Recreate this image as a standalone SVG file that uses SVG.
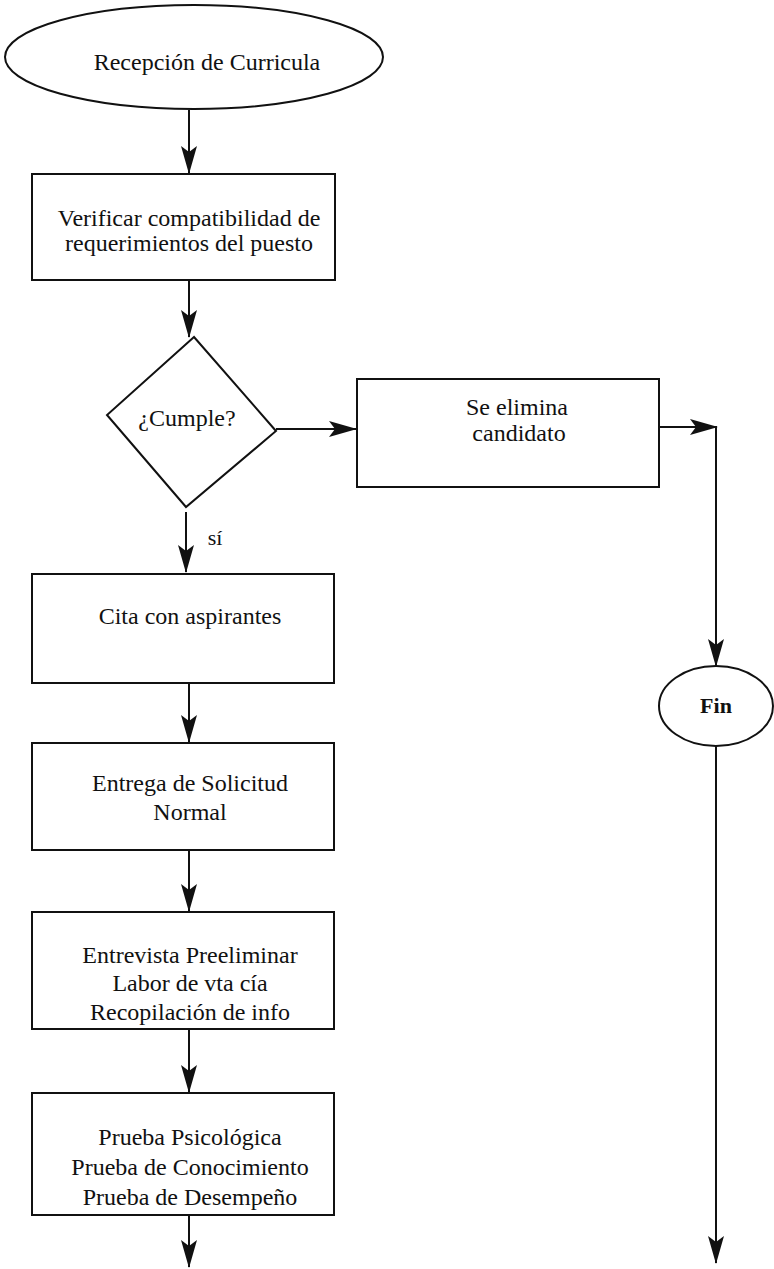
<svg xmlns="http://www.w3.org/2000/svg" width="774" height="1269" viewBox="0 0 774 1269">
<style>
.shape{fill:#fff;stroke:#111;stroke-width:2}
.t{font-family:"Liberation Serif","Times New Roman",serif;font-size:24px;fill:#111;text-anchor:middle}
.b{font-weight:bold;font-size:22px}
.c{stroke:#111;stroke-width:2;fill:none}
</style>
<defs>
<marker id="ah" markerUnits="userSpaceOnUse" markerWidth="28" markerHeight="16" refX="27" refY="8" orient="auto">
<path d="M0,0 L28,8 L0,16 L6,8 Z" fill="#111"/>
</marker>
</defs>
<rect width="774" height="1269" fill="#fff"/>
<g id="connectors">
<line class="c" x1="189" y1="110" x2="189" y2="173" marker-end="url(#ah)"/>
<line class="c" x1="189" y1="280" x2="189" y2="337" marker-end="url(#ah)"/>
<line class="c" x1="276" y1="429" x2="356" y2="429" marker-end="url(#ah)"/>
<line class="c" x1="659" y1="427" x2="717" y2="427" marker-end="url(#ah)"/>
<line class="c" x1="716" y1="427" x2="716" y2="666" marker-end="url(#ah)"/>
<line class="c" x1="186" y1="512" x2="186" y2="572" marker-end="url(#ah)"/>
<line class="c" x1="189" y1="683" x2="189" y2="742" marker-end="url(#ah)"/>
<line class="c" x1="189" y1="850" x2="189" y2="911" marker-end="url(#ah)"/>
<line class="c" x1="189" y1="1029" x2="189" y2="1092" marker-end="url(#ah)"/>
<line class="c" x1="189" y1="1215" x2="189" y2="1267" marker-end="url(#ah)"/>
<line class="c" x1="716" y1="746" x2="716" y2="1263" marker-end="url(#ah)"/>
</g>
<g id="start">
<ellipse class="shape" cx="194" cy="57" rx="189" ry="52"/>
<text class="t" x="207" y="70">Recepción de Curricula</text>
</g>
<g id="verificar">
<rect class="shape" x="32" y="174" width="303" height="106"/>
<text class="t" x="189" y="226">Verificar compatibilidad de</text>
<text class="t" x="189" y="251">requerimientos del puesto</text>
</g>
<g id="cumple">
<polygon class="shape" points="194,337 107,415 186,507 276,431"/>
<text class="t" x="187" y="426">¿Cumple?</text>
<text class="t" x="215" y="545" style="font-size:22px">sí</text>
</g>
<g id="elimina">
<rect class="shape" x="357" y="379" width="302" height="108"/>
<text class="t" x="517" y="415">Se elimina</text>
<text class="t" x="519" y="441">candidato</text>
</g>
<g id="fin">
<ellipse class="shape" cx="716" cy="706" rx="57" ry="40"/>
<text class="t b" x="716" y="713">Fin</text>
</g>
<g id="cita">
<rect class="shape" x="32" y="574" width="302" height="109"/>
<text class="t" x="190" y="624">Cita con aspirantes</text>
</g>
<g id="entrega">
<rect class="shape" x="32" y="743" width="302" height="107"/>
<text class="t" x="190" y="791">Entrega de Solicitud</text>
<text class="t" x="190" y="820">Normal</text>
</g>
<g id="entrevista">
<rect class="shape" x="32" y="912" width="302" height="117"/>
<text class="t" x="190" y="963">Entrevista Preeliminar</text>
<text class="t" x="190" y="991">Labor de vta cía</text>
<text class="t" x="190" y="1020">Recopilación de info</text>
</g>
<g id="pruebas">
<rect class="shape" x="32" y="1093" width="302" height="122"/>
<text class="t" x="190" y="1145">Prueba Psicológica</text>
<text class="t" x="190" y="1175">Prueba de Conocimiento</text>
<text class="t" x="190" y="1205">Prueba de  Desempeño</text>
</g>
</svg>
